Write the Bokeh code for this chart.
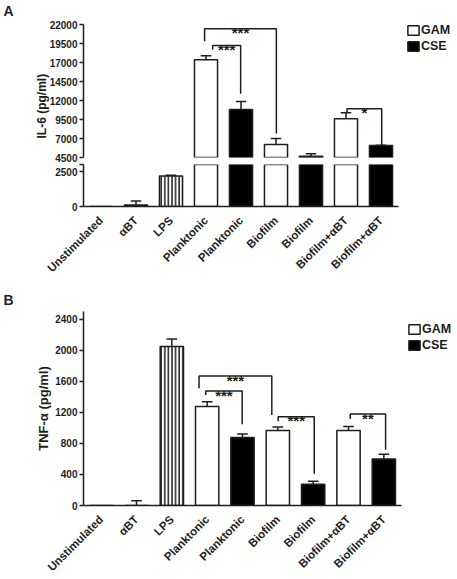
import math
from bokeh.plotting import figure
from bokeh.models import (Range1d, FixedTicker, Legend, LegendItem,
                          ColumnDataSource, Title)
from bokeh.layouts import column
from bokeh.embed import file_html
from bokeh.resources import INLINE
from bokeh.core.properties import value

# ---------------- data ----------------
categories = ["Unstimulated", "\u03b1BT", "LPS", "Planktonic", "Planktonic",
              "Biofilm", "Biofilm", "Biofilm+\u03b1BT", "Biofilm+\u03b1BT"]
groups = ["stim", "stim", "stim", "GAM", "CSE", "GAM", "CSE", "GAM", "CSE"]

il6_mean = [0, 100, 2180, 17350, 10820, 6210, 4670, 9590, 6080]
il6_err = [0, 300, 60, 530, 1050, 800, 320, 790, 40]

tnf_mean = [0, 0, 2050, 1275, 875, 965, 275, 965, 600]
tnf_err = [0, 60, 95, 62, 47, 47, 39, 52, 61]

il6_upper_ticks = [4500, 7000, 9500, 12000, 14500, 17000, 19500, 22000]
il6_lower_ticks = [0, 2500]
il6_break_low = 3000
il6_break_high = 4500
il6_top = 22000
il6_view_top = 22790
tnf_ticks = [0, 400, 800, 1200, 1600, 2000, 2400]
tnf_top = 2500

# significance brackets: left x, right x, bar height, left/right leg ends, label
il6_br_left = [2.96, 3.19, 7.03]
il6_br_right = [5.01, 3.99, 8.02]
il6_br_top = [21430, 19240, 10910]
il6_br_lbot = [19800, 18670, 10330]
il6_br_rbot = [7660, 12880, 6080]
il6_br_text = ["***", "***", "*"]

tnf_br_left = [2.77, 2.96, 5.01, 7.05]
tnf_br_right = [4.83, 3.99, 6.03, 8.05]
tnf_br_top = [1668, 1475, 1145, 1179]
tnf_br_lbot = [1510, 1424, 1085, 1115]
tnf_br_rbot = [1166, 1047, 408, 720]
tnf_br_text = ["***", "***", "***", "**"]

# ---------------- style ----------------
FONT = "Liberation Sans"
INK = "#1e1e1e"
LW = 1.5
BAR_W = 0.66
CAP = 0.15
LEFT = 83
idx = list(range(len(categories)))


def base_fig(frame_w, frame_h, yr, top, bottom, right, xaxis=True):
    p = figure(frame_width=frame_w, frame_height=frame_h,
               x_range=Range1d(-0.5, len(categories) - 0.5), y_range=yr,
               output_backend="svg", toolbar_location=None,
               x_axis_location="below" if xaxis else None,
               min_border_left=LEFT, min_border_right=right,
               min_border_top=top, min_border_bottom=bottom,
               background_fill_color="white", border_fill_color="white")
    p.outline_line_color = None
    p.xgrid.visible = False
    p.ygrid.visible = False
    for ax in p.yaxis:
        ax.axis_line_width = LW
        ax.axis_line_color = INK
        ax.major_tick_line_color = INK
        ax.major_tick_line_width = LW
        ax.major_tick_out = 4
        ax.major_tick_in = 0
        ax.minor_tick_line_color = None
        ax.major_label_text_font = FONT
        ax.major_label_text_font_style = "bold"
        ax.major_label_text_font_size = "10px"
        ax.major_label_text_color = INK
        ax.major_label_standoff = 2
    if xaxis:
        ax = p.xaxis[0]
        ax.ticker = FixedTicker(ticks=idx)
        ax.major_label_overrides = {i: c for i, c in zip(idx, categories)}
        ax.major_label_orientation = math.pi / 4
        ax.axis_line_width = LW
        ax.axis_line_color = INK
        ax.major_tick_line_color = None
        ax.minor_tick_line_color = None
        ax.major_label_text_font = FONT
        ax.major_label_text_font_style = "bold"
        ax.major_label_text_font_size = "11.5px"
        ax.major_label_text_color = INK
        ax.major_label_standoff = 6
    return p


def draw_bars(p, means, errs, floor=None):
    # floor: lowest visible value of this axis segment; bars fully below it
    # are not drawn in that segment
    keep = [i for i in idx if floor is None or means[i] > floor]
    rends = {}
    styles = {
        "GAM": dict(fill_color="white", line_color=INK, line_width=LW),
        "CSE": dict(fill_color="black", line_color=INK, line_width=LW),
        "stim": dict(fill_color="white", line_color=INK, line_width=LW,
                     hatch_pattern="vertical_line", hatch_color=INK,
                     hatch_weight=1.5, hatch_scale=3.6),
    }
    for g, st in styles.items():
        sel = [i for i in keep if groups[i] == g]
        src = ColumnDataSource(dict(x=sel, top=[means[i] for i in sel]))
        rends[g] = p.vbar(x="x", top="top", bottom=0, width=BAR_W,
                          source=src, **st)
    esel = [i for i in keep if errs[i] > 0]
    ey0 = [means[i] for i in esel]
    ey1 = [means[i] + errs[i] for i in esel]
    p.segment(x0=esel, y0=ey0, x1=esel, y1=ey1, line_color=INK, line_width=LW)
    p.segment(x0=[x - CAP for x in esel], y0=ey1,
              x1=[x + CAP for x in esel], y1=ey1,
              line_color=INK, line_width=LW)
    return rends


def draw_brackets(p, left, right, top, lbot, rbot, texts):
    xs = [[l, l, r, r] for l, r in zip(left, right)]
    ys = [[lb, t, t, rb] for t, lb, rb in zip(top, lbot, rbot)]
    p.multi_line(xs=xs, ys=ys, line_color=INK, line_width=LW)
    p.text(x=[(l + r) / 2 for l, r in zip(left, right)], y=top, text=texts,
           text_align="center", text_baseline="alphabetic",
           text_font=value(FONT), text_font_style="bold",
           text_font_size="15px", text_color=INK, y_offset=4)


def add_legend(p, rends, x, y):
    leg = Legend(items=[LegendItem(label="GAM", renderers=[rends["GAM"]]),
                        LegendItem(label="CSE", renderers=[rends["CSE"]])],
                 location=(x, y), orientation="vertical")
    leg.padding = 0
    leg.margin = 0
    leg.spacing = 2
    leg.glyph_width = 14
    leg.glyph_height = 12
    leg.label_height = 12
    leg.label_standoff = 1
    leg.border_line_color = None
    leg.background_fill_alpha = 0
    leg.label_text_font = FONT
    leg.label_text_font_style = "bold"
    leg.label_text_font_size = "12.5px"
    leg.label_text_color = INK
    leg.label_text_baseline = "middle"
    p.add_layout(leg, "right")


def panel_title(p, text, standoff):
    t = Title(text=text, align="left", offset=-80, standoff=standoff,
              text_font=FONT, text_font_style="bold", text_font_size="14px",
              text_color=INK, vertical_align="bottom")
    p.add_layout(t, "above")


# ---------------- panel A (broken axis) ----------------
pa_up = base_fig(315, 139, Range1d(il6_break_high, il6_view_top), top=18,
                 bottom=6, right=59, xaxis=False)
pa_up.yaxis[0].ticker = FixedTicker(ticks=il6_upper_ticks)
pa_up.yaxis[0].bounds = (il6_break_high, il6_top)
rA = draw_bars(pa_up, il6_mean, il6_err, floor=il6_break_high)
draw_brackets(pa_up, il6_br_left, il6_br_right, il6_br_top, il6_br_lbot,
              il6_br_rbot, il6_br_text)
add_legend(pa_up, rA, 8, 104)
panel_title(pa_up, "A", 0)
pa_up.add_layout(Title(text="IL-6 (pg/ml)", align="left", offset=19,
                       standoff=-4, text_font=FONT, text_font_style="bold",
                       text_font_size="12px", text_color=INK,
                       vertical_align="bottom"), "left")

pa_lo = base_fig(315, 42, Range1d(0, il6_break_low), top=1, bottom=74,
                 right=59, xaxis=True)
pa_lo.yaxis[0].ticker = FixedTicker(ticks=il6_lower_ticks + [il6_break_low])
pa_lo.yaxis[0].major_label_overrides = {il6_break_low: ""}
draw_bars(pa_lo, il6_mean, il6_err)

# ---------------- panel B ----------------
pb = base_fig(318, 194, Range1d(0, tnf_top), top=30, bottom=74, right=56,
              xaxis=True)
pb.yaxis[0].ticker = FixedTicker(ticks=tnf_ticks)
pb.yaxis[0].axis_label = "TNF-\u03b1 (pg/ml)"
pb.yaxis[0].axis_label_text_font = FONT
pb.yaxis[0].axis_label_text_font_style = "bold"
pb.yaxis[0].axis_label_text_font_size = "13px"
pb.yaxis[0].axis_label_text_color = INK
pb.yaxis[0].axis_label_standoff = 1
rB = draw_bars(pb, tnf_mean, tnf_err)
draw_brackets(pb, tnf_br_left, tnf_br_right, tnf_br_top, tnf_br_lbot,
              tnf_br_rbot, tnf_br_text)
add_legend(pb, rB, 6, 153)
panel_title(pb, "B", 8)

layout = column(pa_up, pa_lo, pb, spacing=0)
open("out.html", "w").write(file_html(layout, INLINE))
